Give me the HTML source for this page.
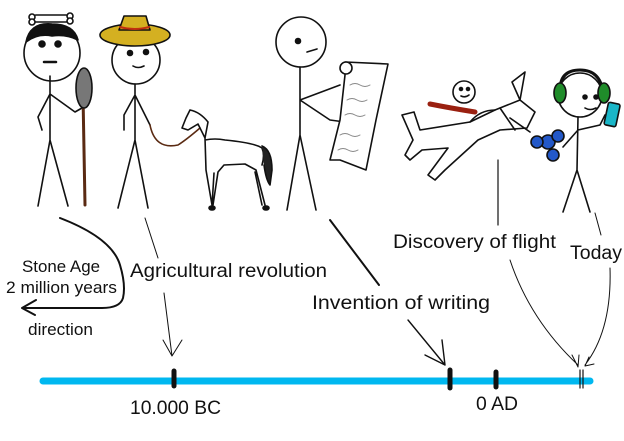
<!DOCTYPE html>
<html><head><meta charset="utf-8"><style>
html,body{margin:0;padding:0;background:#fff;}
svg{display:block;}
text{font-family:"Liberation Sans",sans-serif;fill:#111;}
</style></head><body>
<svg width="624" height="441" viewBox="0 0 624 441" xmlns="http://www.w3.org/2000/svg">
<g fill="none" stroke="#111" stroke-width="1.6" stroke-linecap="round" stroke-linejoin="round">
<!-- Figure 1 caveman -->
<path d="M33 22 Q52 14 70 22" stroke="#111" stroke-width="3"/>
<rect x="33" y="15" width="36" height="7" rx="3" fill="#fff"/>
<circle cx="32" cy="17" r="3" fill="#fff"/><circle cx="32" cy="22" r="3" fill="#fff"/>
<circle cx="70" cy="16" r="3" fill="#fff"/><circle cx="70" cy="21" r="3" fill="#fff"/>
<circle cx="52" cy="53" r="28"/>
<path d="M26 42 Q30 22 52 24 Q74 24 78 40 Q66 34 52 36 Q38 33 26 42Z" fill="#111"/>
<circle cx="42" cy="44" r="3" fill="#111"/><circle cx="58" cy="44" r="3" fill="#111"/>
<path d="M44 62 H56" stroke-width="2.5"/>
<path d="M50 76 V140 M50 140 L38 206 M50 140 L68 206 M50 94 L38 117 L42 130 M50 94 L75 112 L82 108"/>
<path d="M83 95 L85 205" stroke="#5a2a12" stroke-width="3"/>
<ellipse cx="84" cy="88" rx="8" ry="20" fill="#777"/>
<!-- Figure 2 farmer -->
<circle cx="136" cy="60" r="24"/>
<ellipse cx="135" cy="35" rx="35" ry="11" fill="#d4b021"/>
<path d="M119 30 L124 16 H146 L150 30Z" fill="#d4b021"/>
<path d="M120 27 Q135 31 149 27" stroke="#c03010" stroke-width="2"/>
<circle cx="130" cy="53" r="2.5" fill="#111"/><circle cx="146" cy="52" r="2.5" fill="#111"/>
<path d="M133 66 Q138 69 144 66"/>
<path d="M135 84 V140 M135 140 L118 208 M135 140 L148 208 M135 95 L124 115 L124 130 M135 95 L150 125"/>
<path d="M150 125 Q155 150 178 145 Q186 140 200 128" stroke="#5a2a12" stroke-width="1.6"/>
<!-- horse -->
<path d="M190 110 L186 118 L182 128 L188 130 L198 124 L205 138 L206 170 L212 205 M213 205 L218 172 L224 165 L245 164 L256 170 L265 205 M262 205 L255 172 M214 173 L212 206 M205 140 Q215 138 225 140 Q255 143 262 148 Q265 155 262 165 M190 110 Q200 112 208 122 L205 138"/>
<path d="M262 146 Q272 150 272 170 L270 185 Q266 180 264 165" fill="#222"/>
<ellipse cx="212" cy="208" rx="3" ry="2" fill="#111"/><ellipse cx="266" cy="208" rx="3" ry="2" fill="#111"/>
<!-- Figure 3 scribe -->
<circle cx="301" cy="42" r="25"/>
<circle cx="298" cy="41" r="2.5" fill="#111"/>
<path d="M307 52 L317 49"/>
<path d="M300 67 V135 M300 135 L287 210 M300 135 L316 210 M300 100 L340 85 M300 100 L330 120 L367 125"/>
<path d="M345 62 L388 64 L376 120 L366 170 L340 160 L330 160 L340 120 L345 75 Z" fill="#fff"/>
<circle cx="346" cy="68" r="6" fill="#fff"/>
<path d="M350 85 q5 -3 10 0 t10 0 M347 100 q5 -3 10 0 t10 0 M345 115 q5 -3 10 0 t10 0 M340 135 q5 -3 10 0 t10 0 M338 150 q5 -3 10 0 t10 0" stroke="#888" stroke-width="1"/>
<!-- plane -->
<path d="M402 115 L414 112 L420 130 L470 122 L495 110 L520 100 L512 82 L525 72 L520 100 L535 112 L527 128 L500 130 L478 140 L445 170 L435 180 L428 175 L448 148 L422 150 L410 160 L405 155 L413 140 Z" fill="#fff"/>
<path d="M500 108 L515 130 M510 118 L530 132 M470 122 Q480 110 495 110"/>
<circle cx="464" cy="92" r="11" fill="#fff"/>
<circle cx="461" cy="89" r="1.5" fill="#111"/><circle cx="468" cy="89" r="1.5" fill="#111"/>
<path d="M461 96 Q465 98 469 95"/>
<path d="M430 104 Q450 108 475 112" stroke="#9a2010" stroke-width="5"/>
<!-- Figure 5 today -->
<path d="M560 90 Q560 70 580 70 Q600 70 603 92" stroke-width="3"/>
<circle cx="580" cy="95" r="22"/>
<ellipse cx="560" cy="93" rx="6" ry="10" fill="#1f8c2a"/>
<ellipse cx="604" cy="93" rx="6" ry="10" fill="#1f8c2a"/>
<circle cx="585" cy="97" r="2" fill="#111"/><circle cx="596" cy="97" r="2" fill="#111"/>
<path d="M585 108 Q590 111 596 108"/>
<path d="M578 117 L577 170 M577 170 L563 212 M577 170 L590 212 M578 130 L563 147 M578 130 L600 125 L605 115"/>
<rect x="606" y="103" width="12" height="23" rx="2" fill="#1ab6c8" transform="rotate(12 612 115)"/>
<circle cx="548" cy="142" r="7" fill="#2358c8"/><circle cx="537" cy="142" r="6" fill="#2358c8"/>
<circle cx="558" cy="136" r="6" fill="#2358c8"/><circle cx="553" cy="155" r="6" fill="#2358c8"/>
<!-- connectors -->
<path d="M60 218 Q112 238 120 265 Q126 285 123 298 Q120 308 102 308 L24 308 M36 300 L22 308 L35 315" stroke-width="2"/>
<path d="M145 218 L158 258 M164 293 L172 356 M163 340 L172 356 L182 340" stroke-width="1"/>
<path d="M330 220 L379 285" stroke-width="2"/>
<path d="M408 320 L445 365 M425 355 L445 365 L442 340" stroke-width="1.4"/>
<path d="M498 160 L498 225" stroke-width="1.2"/>
<path d="M510 260 Q530 320 578 365 M572 355 L578 367 L579 355" stroke-width="1"/>
<path d="M595 213 L601 235 M610 268 Q612 330 585 365 M589 357 L585 366 L594 364" stroke-width="1"/>
</g>
<!-- timeline -->
<line x1="43" y1="381" x2="590" y2="381" stroke="#00b8f0" stroke-width="7" stroke-linecap="round"/>
<g stroke="#111" stroke-linecap="round">
<line x1="174" y1="371" x2="174" y2="386" stroke-width="5"/>
<line x1="450" y1="370" x2="450" y2="388" stroke-width="5"/>
<line x1="496" y1="372" x2="496" y2="387" stroke-width="5"/>
<line x1="580" y1="370" x2="580" y2="388" stroke-width="1.2"/>
<line x1="583" y1="370" x2="583" y2="388" stroke-width="1.2"/>
</g>
<g font-size="17">
<text x="22" y="272" textLength="78" lengthAdjust="spacingAndGlyphs">Stone Age</text>
<text x="6" y="293" textLength="111" lengthAdjust="spacingAndGlyphs">2 million years</text>
<text x="28" y="335" textLength="65" lengthAdjust="spacingAndGlyphs">direction</text>
<text x="130" y="277" font-size="19" textLength="197" lengthAdjust="spacingAndGlyphs">Agricultural revolution</text>
<text x="312" y="309" font-size="19" textLength="178" lengthAdjust="spacingAndGlyphs">Invention of writing</text>
<text x="393" y="248" font-size="19" textLength="163" lengthAdjust="spacingAndGlyphs">Discovery of flight</text>
<text x="570" y="259" font-size="19" textLength="52" lengthAdjust="spacingAndGlyphs">Today</text>
<text x="130" y="414" font-size="19" textLength="91" lengthAdjust="spacingAndGlyphs">10.000 BC</text>
<text x="476" y="410" font-size="19" textLength="42" lengthAdjust="spacingAndGlyphs">0 AD</text>
</g>
</svg>
</body></html>
